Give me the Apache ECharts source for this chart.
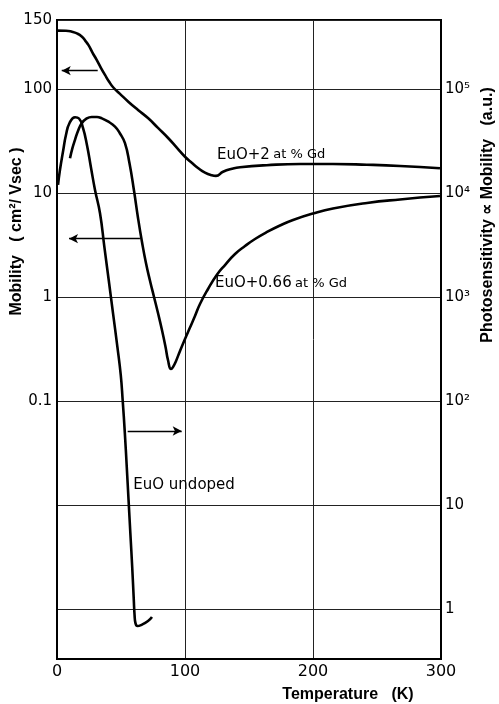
<!DOCTYPE html>
<html>
<head>
<meta charset="utf-8">
<script src="https://cdn.jsdelivr.net/npm/echarts@6/dist/echarts.min.js"></script>
<style>
html, body { margin: 0; padding: 0; background: #fff; }
#chart { width: 499px; height: 704px; }
</style>
</head>
<body>
<div id="chart"></div>
<script>
// EuO + 2 at% Gd : temperature (K) / mobility (cm2/Vsec)
var tempGd2 = [0, 7, 11.7, 15.6, 19.3, 21.9, 24.5, 27.7, 31, 34.4, 37.5, 40.6, 44, 49.2, 55.7, 63.3, 71.3, 78.9, 87, 93.75, 100, 105.5, 110.4, 115.6, 120.9, 124.2, 129.7, 136.7, 143, 163.8, 190, 215.6, 242, 268, 299.2];
var mobGd2 = [364, 363, 355, 342, 320, 293, 265, 224, 190, 159, 136.5, 118, 103.3, 89.6, 75.5, 62.8, 52.2, 42.2, 33.6, 27.1, 22.3, 19.4, 17.3, 15.7, 14.8, 14.6, 16.0, 17.1, 17.7, 18.5, 19.0, 19.0, 18.7, 18.2, 17.3];

// EuO + 0.66 at% Gd : temperature (K) / mobility (cm2/Vsec)
var tempGd066 = [10.16, 12.1, 14.06, 16.4, 19.3, 22.7, 27.1, 31.25, 34.9, 39.8, 45.3, 49.2, 53.1, 56.6, 60.2, 63.3, 66.4, 69.5, 72.7, 75.8, 78.9, 82.0, 84.8, 86.7, 89.1, 90.6, 93.0, 96.1, 100, 103.9, 107.8, 111.7, 118.0, 124.8, 131.25, 139.1, 146.9, 154.7, 164.1, 174.2, 184.4, 200, 215.6, 242.2, 268, 299.2];
var mobGd066 = [21.6, 27.1, 32.4, 39.5, 46.8, 51.5, 53.8, 53.8, 52.3, 48.7, 43.4, 37.3, 30.1, 19.4, 10.45, 5.75, 3.38, 2.12, 1.426, 1.0, 0.701, 0.482, 0.331, 0.248, 0.203, 0.212, 0.243, 0.303, 0.395, 0.509, 0.657, 0.857, 1.194, 1.628, 2.03, 2.59, 3.09, 3.61, 4.22, 4.87, 5.50, 6.35, 7.10, 8.02, 8.67, 9.35];

// EuO undoped : temperature (K) / photosensitivity (a.u.)
var tempUndoped = [0.8, 2.3, 4.9, 7.0, 9.8, 14.1, 17.2, 20.3, 23.4, 26.6, 29.7, 33.6, 37.0, 40.4, 43.75, 47.2, 49.8, 51.3, 53.0, 54.5, 55.9, 57.3, 58.75, 60.0, 60.6, 61.3, 62.9, 65.6, 71.1, 74.2];
var photoUndoped = [11940, 16630, 25900, 36100, 47100, 53500, 52000, 42200, 29000, 17400, 10700, 6380, 3030, 1456, 701, 330, 178, 102, 49.2, 23.2, 11.2, 5.38, 2.54, 1.22, 0.875, 0.733, 0.687, 0.702, 0.767, 0.838];

// axis ticks
var xTicks = [0, 100, 200, 300];
var leftLabels = { '2': '100', '1': '10', '0': '1', '-1': '0.1' };
var rightLabels = { '5': '10\u2075', '4': '10\u2074', '3': '10\u00b3', '2': '10\u00b2', '1': '10', '0': '1' };
var topLabel = '150';

var yMin = Math.pow(10, -3.48);
var yMax = Math.pow(10, 2.663);

function pairs(xs, ys) {
    var out = [];
    for (var i = 0; i < xs.length; i++) out.push([xs[i], ys[i]]);
    return out;
}

function decadeLabel(map, v, lo, hi) {
    if (v >= hi * 0.9) return map === leftLabels ? topLabel : '';
    if (v <= lo * 1.1) return '';
    var e = Math.round(Math.log10(v));
    if (Math.abs(Math.log10(v) - e) > 0.01) return '';
    return map[String(e)] || '';
}

var tickFont = { color: '#000', fontFamily: 'DejaVu Sans', fontSize: 15 };
var nameFont = { color: '#000', fontFamily: 'Liberation Sans', fontWeight: 'bold', fontSize: 16 };
var curve = { color: '#000', width: 2.6 };
var arrow = { color: '#000', width: 1.3, type: 'solid' };
var labelRich = {
    a: { fontFamily: 'DejaVu Sans', fontSize: 15, color: '#000' },
    b: { fontFamily: 'DejaVu Sans', fontSize: 13, color: '#000' }
};

var chart = echarts.init(document.getElementById('chart'));
var option = {
    animation: false,
    backgroundColor: '#fff',
    grid: {
        left: 57, right: 58, top: 20, bottom: 45, outerBoundsMode: 'none', containLabel: false,
        show: true, borderColor: '#000', borderWidth: 2
    },
    xAxis: {
        type: 'value', min: xTicks[0], max: xTicks[xTicks.length - 1], interval: 100,
        name: 'Temperature   (K)', nameLocation: 'middle', nameGap: 28, nameMoveOverlap: false,
        nameTextStyle: Object.assign({ padding: [0, 0, 0, 198] }, nameFont),
        axisLine: { lineStyle: { color: '#000', width: 2 } },
        axisTick: { show: false },
        axisLabel: Object.assign({ margin: 5 }, tickFont, { fontSize: 16 }),
        splitLine: { show: true, lineStyle: { color: '#222', width: 1 } }
    },
    yAxis: [
        {
            type: 'log', min: yMin, max: yMax, position: 'left',
            name: 'Mobility   ( cm\u00b2/ Vsec )', nameLocation: 'middle', nameRotate: 90, nameGap: 32, nameMoveOverlap: false,
            nameTextStyle: Object.assign({ padding: [0, 0, 0, 216] }, nameFont),
            axisLine: { show: true, lineStyle: { color: '#000', width: 2 } },
            axisTick: { show: false },
            axisLabel: Object.assign({
                margin: 5, showMaxLabel: true, showMinLabel: false,
                formatter: function (v) { return decadeLabel(leftLabels, v, yMin, yMax); }
            }, tickFont),
            splitLine: { show: true, lineStyle: { color: '#222', width: 1 } }
        },
        {
            type: 'log', min: yMin * 1000, max: yMax * 1000, position: 'right',
            name: 'Photosensitivity \u221d Mobility   (a.u.)', nameLocation: 'middle', nameRotate: 90, nameGap: 39, nameMoveOverlap: false,
            nameTextStyle: Object.assign({ padding: [0, 0, 0, 249] }, nameFont),
            axisLine: { show: true, lineStyle: { color: '#000', width: 2 } },
            axisTick: { show: false },
            axisLabel: Object.assign({
                margin: 4, showMaxLabel: false, showMinLabel: false,
                formatter: function (v) { return decadeLabel(rightLabels, v, yMin * 1000, yMax * 1000); }
            }, tickFont),
            splitLine: { show: false }
        }
    ],
    series: [
        {
            name: 'EuO+2 at% Gd', type: 'line', yAxisIndex: 0, smooth: 0.5, showSymbol: false,
            lineStyle: curve, data: pairs(tempGd2, mobGd2),
            markLine: {
                silent: true, symbol: ['none', 'arrow'], symbolSize: [7, 9],
                lineStyle: arrow, label: { show: false },
                data: [[{ coord: [31.8, 150] }, { coord: [3.7, 150] }]]
            },
            markPoint: {
                symbol: 'circle', symbolSize: 0,
                label: { show: true, position: 'right', distance: 0, formatter: '{a|EuO+2} {b|at % Gd}', rich: labelRich },
                data: [{ coord: [125, 23.2] }]
            }
        },
        {
            name: 'EuO+0.66 at% Gd', type: 'line', yAxisIndex: 0, smooth: 0.5, showSymbol: false,
            lineStyle: curve, data: pairs(tempGd066, mobGd066),
            markLine: {
                silent: true, symbol: ['none', 'arrow'], symbolSize: [7, 9],
                lineStyle: arrow, label: { show: false },
                data: [[{ coord: [64.8, 3.64] }, { coord: [9.4, 3.64] }]]
            },
            markPoint: {
                symbol: 'circle', symbolSize: 0,
                label: { show: true, position: 'right', distance: 0, formatter: '{a|EuO+0.66} {b|at % Gd}', rich: labelRich },
                data: [{ coord: [123.4, 1.35] }]
            }
        },
        {
            name: 'EuO undoped', type: 'line', yAxisIndex: 1, smooth: 0.5, showSymbol: false,
            lineStyle: curve, data: pairs(tempUndoped, photoUndoped),
            markLine: {
                silent: true, symbol: ['none', 'arrow'], symbolSize: [7, 9],
                lineStyle: arrow, label: { show: false },
                data: [[{ coord: [55.2, 51.5] }, { coord: [97.4, 51.5] }]]
            },
            markPoint: {
                symbol: 'circle', symbolSize: 0,
                label: { show: true, position: 'right', distance: 0, formatter: '{a|EuO undoped}', rich: labelRich },
                data: [{ coord: [59.6, 15.6] }]
            }
        }
    ]
};
chart.setOption(option);
</script>
</body>
</html>
